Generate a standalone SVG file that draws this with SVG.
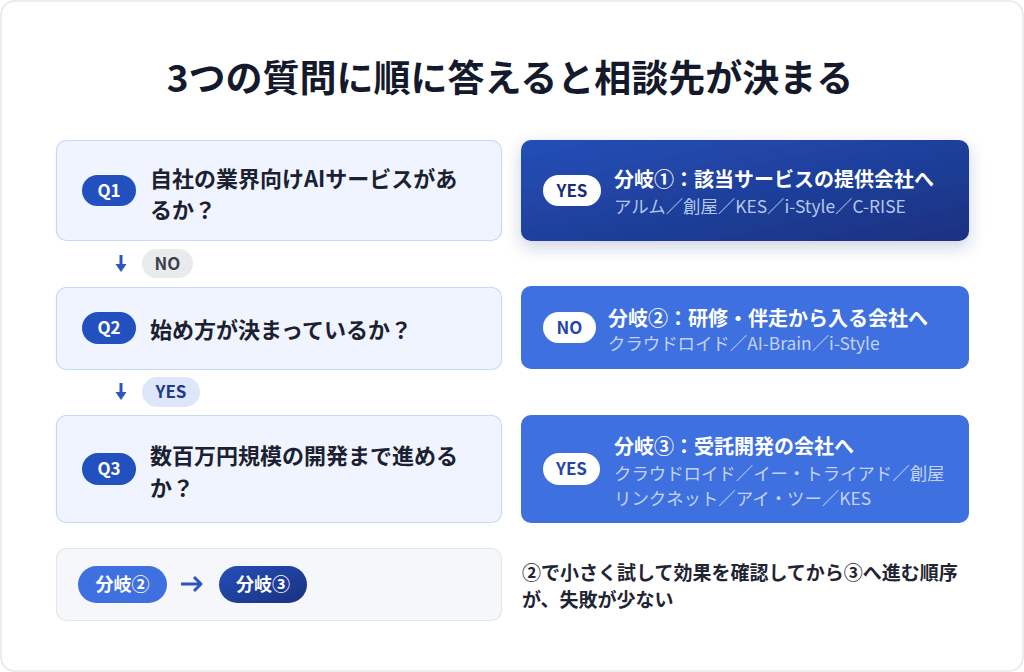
<svg xmlns="http://www.w3.org/2000/svg" width="1024" height="672" viewBox="0 0 1024 672">
<style>
text{font-family:"Noto Sans CJK JP","Noto Sans",sans-serif}
.title{font-size:37px;font-weight:700;fill:#141a2b}
.qbox{fill:#eff4ff;stroke:#c8d8fb;stroke-width:1.2}
.qpill{fill:#2350bf}
.qlbl{font-size:17px;font-weight:700;fill:#ffffff}
.qtxt{font-size:22px;font-weight:700;fill:#1b2130}
.mid{fill:#3e70e0}
.wpill{fill:#ffffff}
.ans{font-size:17px;font-weight:700;text-anchor:middle}
.atitle{font-size:20px;font-weight:700;fill:#ffffff}
.asub{font-size:17.4px;font-weight:400;fill:#c3d3f5}
.asub1{fill:#b6c6ec}
.conn{stroke:#2a55c2;stroke-width:3;fill:none;stroke-linecap:butt}
.head{fill:#2a55c2}
.note{font-size:19px;font-weight:700;fill:#1f2533}
</style>
<defs>
<linearGradient id="dark" x1="0" y1="0" x2="1" y2="1">
<stop offset="0" stop-color="#244fb8"/>
<stop offset="1" stop-color="#1a3180"/>
</linearGradient>
<filter id="sh" x="-10%" y="-20%" width="120%" height="160%">
<feDropShadow dx="0" dy="6" stdDeviation="8" flood-color="#1a3180" flood-opacity="0.22"/>
</filter>
</defs>
<rect x="1" y="1" width="1022" height="670" rx="14" fill="#ffffff" stroke="#e6e7ea" stroke-width="1.5"/>
<text class="title" x="510" y="92" text-anchor="middle">3つの質問に順に答えると相談先が決まる</text>

<g id="q1">
<rect class="qbox" x="56.5" y="140.5" width="445" height="100" rx="10"/>
<rect class="qpill" x="82" y="175" width="54" height="31" rx="15.5"/>
<text class="qlbl" x="109" y="196.5" text-anchor="middle">Q1</text>
<text class="qtxt" x="150" y="187">自社の業界向けAIサービスがあ</text>
<text class="qtxt" x="150" y="218">るか？</text>
</g>

<g id="a1">
<rect x="521" y="140" width="448" height="101" rx="10" fill="url(#dark)" filter="url(#sh)"/>
<rect class="wpill" x="543" y="175" width="58" height="31" rx="15.5"/>
<text class="ans" x="572" y="196.5" fill="#1b2f75">YES</text>
<text class="atitle" x="614" y="187">分岐①：該当サービスの提供会社へ</text>
<text class="asub asub1" x="614" y="213">アルム／創屋／KES／i-Style／C-RISE</text>
</g>

<g id="q2">
<rect class="qbox" x="56.5" y="287.5" width="445" height="82" rx="10"/>
<rect class="qpill" x="82" y="312" width="54" height="32" rx="16"/>
<text class="qlbl" x="109" y="334" text-anchor="middle">Q2</text>
<text class="qtxt" x="150" y="338">始め方が決まっているか？</text>
</g>

<g id="a2">
<rect class="mid" x="521" y="286" width="448" height="83" rx="10"/>
<rect class="wpill" x="543" y="312" width="53" height="31" rx="15.5"/>
<text class="ans" x="569.5" y="333.5" fill="#2347a8">NO</text>
<text class="atitle" x="608" y="326">分岐②：研修・伴走から入る会社へ</text>
<text class="asub" x="608" y="350">クラウドロイド／AI-Brain／i-Style</text>
</g>

<g id="q3">
<rect class="qbox" x="56.5" y="415.5" width="445" height="107" rx="10"/>
<rect class="qpill" x="82" y="453" width="54" height="32" rx="16"/>
<text class="qlbl" x="109" y="475" text-anchor="middle">Q3</text>
<text class="qtxt" x="150" y="464">数百万円規模の開発まで進める</text>
<text class="qtxt" x="150" y="496">か？</text>
</g>

<g id="a3">
<rect class="mid" x="521" y="415" width="448" height="108" rx="10"/>
<rect class="wpill" x="543" y="453" width="57" height="32" rx="16"/>
<text class="ans" x="571.5" y="475" fill="#2347a8">YES</text>
<text class="atitle" x="614" y="454">分岐③：受託開発の会社へ</text>
<text class="asub" x="614" y="480">クラウドロイド／イー・トライアド／創屋</text>
<text class="asub" x="614" y="505">リンクネット／アイ・ツー／KES</text>
</g>

<g id="no-label">
<rect x="142" y="249" width="51" height="29" rx="14.5" fill="#e9eaed"/>
<text class="ans" x="167.5" y="269.5" fill="#3a404c">NO</text>
</g>
<g id="yes-label">
<rect x="142" y="377" width="58" height="30" rx="15" fill="#dde7f9"/>
<text class="ans" x="171" y="398" fill="#1e3a8a">YES</text>
</g>

<g id="summary">
<rect x="56.5" y="548.5" width="445" height="72" rx="10" fill="#f6f7fa" stroke="#e4e6ea" stroke-width="1.2"/>
<rect x="78" y="566" width="89" height="37" rx="18.5" fill="#3e70e0"/>
<text x="122.5" y="591" text-anchor="middle" font-size="18" font-weight="700" fill="#ffffff">分岐②</text>
<rect x="219" y="566" width="88" height="37" rx="18.5" fill="url(#dark)"/>
<text x="263" y="591" text-anchor="middle" font-size="18" font-weight="700" fill="#ffffff">分岐③</text>
</g>

<g id="note">
<text class="note" x="522" y="580">②で小さく試して効果を確認してから③へ進む順序</text>
<text class="note" x="522" y="607">が、失敗が少ない</text>
</g>

<g id="connectors">
<path class="conn" d="M121 255 V265"/>
<path class="head" d="M115.5 264 L126.5 264 L121 272 Z"/>
<path class="conn" d="M121 383 V393"/>
<path class="head" d="M115.5 392 L126.5 392 L121 400 Z"/>
<path class="conn" stroke-linecap="round" stroke-linejoin="round" d="M181 584 H201 M194 577 L201 584 L194 591"/>
</g>
</svg>
